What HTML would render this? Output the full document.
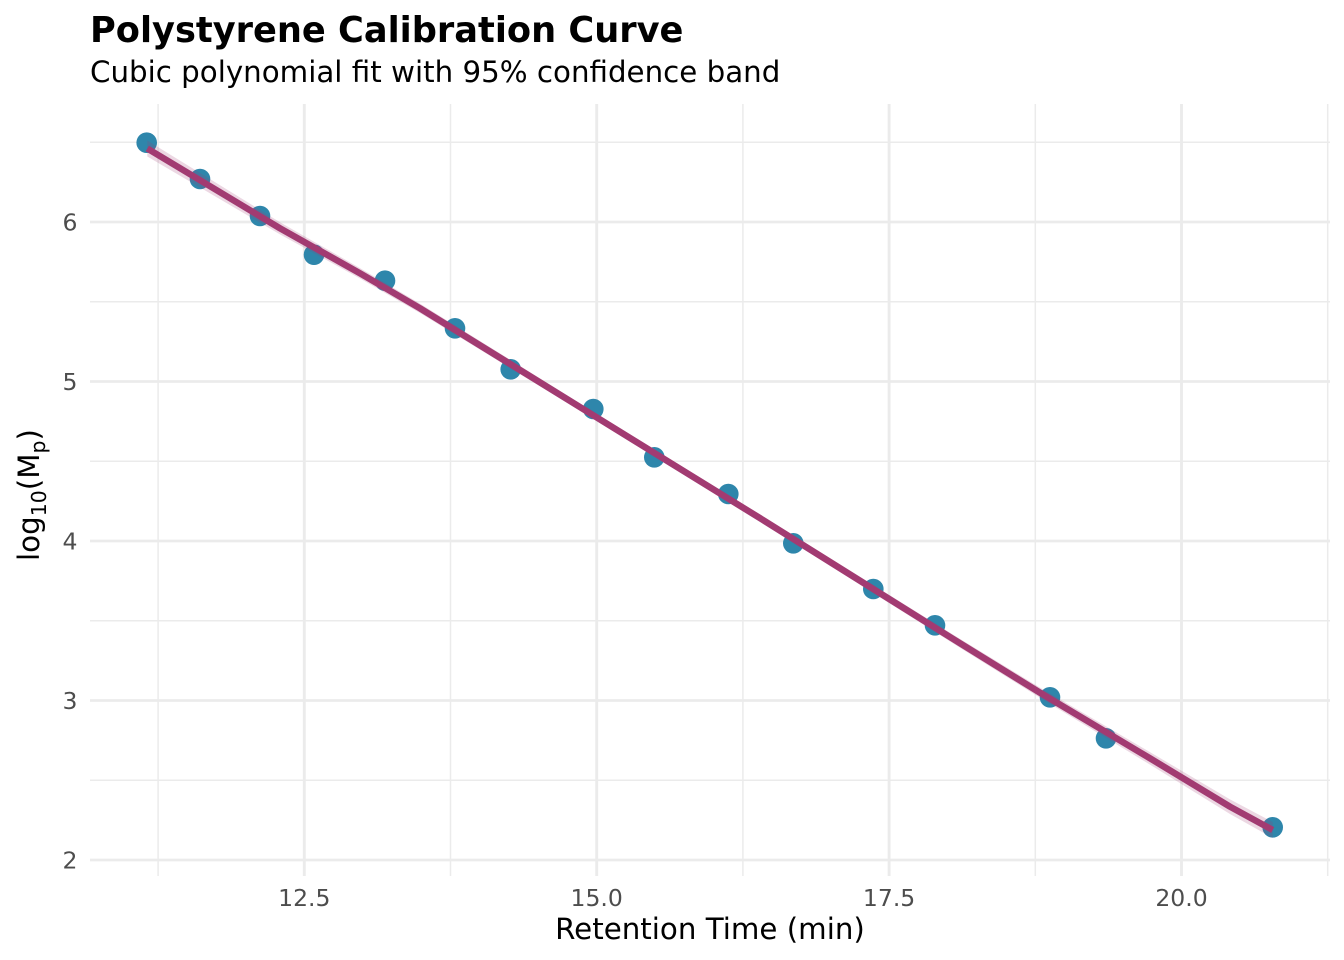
<!DOCTYPE html>
<html>
<head>
<meta charset="utf-8">
<style>
  html, body { margin: 0; padding: 0; background: #ffffff; }
  svg { display: block; }
  text { font-family: "DejaVu Sans", "Liberation Sans", sans-serif; }
</style>
</head>
<body>
<svg width="1344" height="960" viewBox="0 0 1344 960" xmlns="http://www.w3.org/2000/svg">
  <rect x="0" y="0" width="1344" height="960" fill="#ffffff"/>

  <!-- minor gridlines -->
  <g stroke="#EBEBEB" stroke-width="1.45" fill="none">
    <line x1="90" y1="142.25" x2="1330" y2="142.25"/>
    <line x1="90" y1="301.75" x2="1330" y2="301.75"/>
    <line x1="90" y1="461.25" x2="1330" y2="461.25"/>
    <line x1="90" y1="620.75" x2="1330" y2="620.75"/>
    <line x1="90" y1="780.25" x2="1330" y2="780.25"/>
    <line x1="158.1" y1="104" x2="158.1" y2="876"/>
    <line x1="450.5" y1="104" x2="450.5" y2="876"/>
    <line x1="742.9" y1="104" x2="742.9" y2="876"/>
    <line x1="1035.3" y1="104" x2="1035.3" y2="876"/>
    <line x1="1327.7" y1="104" x2="1327.7" y2="876"/>
  </g>
  <!-- major gridlines -->
  <g stroke="#EBEBEB" stroke-width="2.85" fill="none">
    <line x1="90" y1="222" x2="1330" y2="222"/>
    <line x1="90" y1="381.5" x2="1330" y2="381.5"/>
    <line x1="90" y1="541" x2="1330" y2="541"/>
    <line x1="90" y1="700.5" x2="1330" y2="700.5"/>
    <line x1="90" y1="860" x2="1330" y2="860"/>
    <line x1="304.3" y1="104" x2="304.3" y2="876"/>
    <line x1="596.7" y1="104" x2="596.7" y2="876"/>
    <line x1="889.1" y1="104" x2="889.1" y2="876"/>
    <line x1="1181.5" y1="104" x2="1181.5" y2="876"/>
  </g>

  <!-- points -->
  <g fill="#2E86AB">
    <circle cx="146.7" cy="142.7" r="10.3"/>
    <circle cx="200" cy="179" r="10.3"/>
    <circle cx="260" cy="216" r="10.3"/>
    <circle cx="314" cy="254.7" r="10.3"/>
    <circle cx="385" cy="280.7" r="10.3"/>
    <circle cx="455" cy="328.3" r="10.3"/>
    <circle cx="510.7" cy="369.3" r="10.3"/>
    <circle cx="593.3" cy="409" r="10.3"/>
    <circle cx="654.3" cy="457.3" r="10.3"/>
    <circle cx="728.3" cy="494" r="10.3"/>
    <circle cx="793.3" cy="543.3" r="10.3"/>
    <circle cx="873.3" cy="589" r="10.3"/>
    <circle cx="935" cy="625.3" r="10.3"/>
    <circle cx="1050" cy="697.3" r="10.3"/>
    <circle cx="1106" cy="738.3" r="10.3"/>
    <circle cx="1272.7" cy="827.3" r="10.3"/>
  </g>

  <!-- confidence band -->
  <polygon fill="#A23B72" fill-opacity="0.2"
    points="147.3,140.5 280,222.2 360,268.1 420,303.6 593,411.4 763,516.5 960,638.9 1040,687.6 1150,752.1 1230,799.4 1272.7,822 1272.7,838 1230,814 1150,764.6 1040,697.8 960,647.7 763,523.5 593,418.8 420,313 360,278.5 280,234.4 147.3,156.5"/>

  <!-- fit line -->
  <polyline fill="none" stroke="#A23B72" stroke-width="6.5" stroke-linejoin="round" stroke-linecap="butt"
    points="147.3,148.5 280,228.3 360,273.3 420,308.3 593,415.1 763,520 960,643.3 1040,692.7 1150,758.3 1230,806.7 1272.7,830"/>

  <!-- y tick labels -->
  <g fill="#4D4D4D" font-size="23.5" text-anchor="end">
    <text x="77.5" y="230.7">6</text>
    <text x="77.5" y="390.2">5</text>
    <text x="77.5" y="549.7">4</text>
    <text x="77.5" y="709.2">3</text>
    <text x="77.5" y="868.7">2</text>
  </g>

  <!-- x tick labels -->
  <g fill="#4D4D4D" font-size="23.5" text-anchor="middle">
    <text x="304.3" y="906">12.5</text>
    <text x="596.7" y="906">15.0</text>
    <text x="889.1" y="906">17.5</text>
    <text x="1181.5" y="906">20.0</text>
  </g>

  <!-- axis titles -->
  <text x="710" y="939" font-size="29.3" text-anchor="middle" fill="#000000">Retention Time (min)</text>
  <text transform="translate(39,495) rotate(-90)" font-size="29.3" text-anchor="middle" fill="#000000">log<tspan font-size="20.5" dy="7">10</tspan><tspan dy="-7">(M</tspan><tspan font-size="20.5" dy="6">p</tspan><tspan dy="-6">)</tspan></text>

  <!-- title and subtitle -->
  <text x="90" y="42" font-size="35.2" font-weight="bold" fill="#000000">Polystyrene Calibration Curve</text>
  <text x="90" y="82" font-size="29.3" fill="#000000">Cubic polynomial fit with 95% confidence band</text>
</svg>
</body>
</html>
